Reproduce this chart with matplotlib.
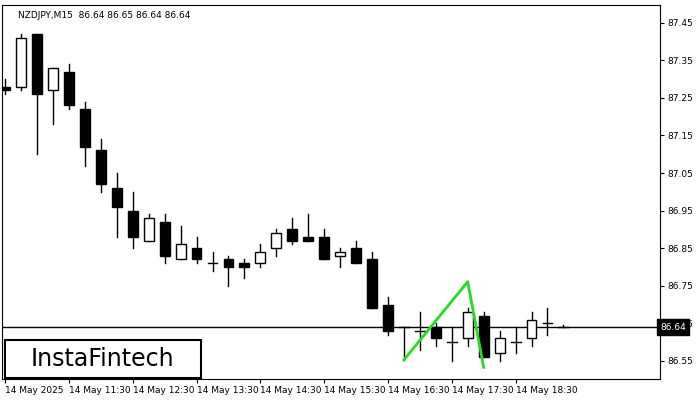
import matplotlib
matplotlib.use("Agg")
import matplotlib.pyplot as plt
from matplotlib.patches import Rectangle

# OHLC of the M15 bars
opens  = [87.28, 87.28, 87.42, 87.27, 87.32, 87.22, 87.11, 87.01, 86.95, 86.87, 86.92, 86.82, 86.85, 86.81,
          86.82, 86.81, 86.81, 86.85, 86.90, 86.88, 86.88, 86.83, 86.85, 86.82, 86.70, 86.64, 86.63, 86.64,
          86.60, 86.61, 86.67, 86.57, 86.60, 86.61, 86.65, 86.64]
highs  = [87.30, 87.42, 87.42, 87.33, 87.34, 87.24, 87.14, 87.05, 87.00, 86.94, 86.94, 86.91, 86.88, 86.84,
          86.83, 86.82, 86.86, 86.90, 86.93, 86.94, 86.90, 86.85, 86.87, 86.84, 86.72, 86.64, 86.68, 86.65,
          86.64, 86.69, 86.68, 86.63, 86.64, 86.68, 86.69, 86.645]
lows   = [87.26, 87.27, 87.10, 87.18, 87.22, 87.07, 87.00, 86.88, 86.85, 86.87, 86.81, 86.82, 86.81, 86.79,
          86.75, 86.77, 86.80, 86.83, 86.86, 86.87, 86.82, 86.80, 86.81, 86.69, 86.62, 86.553, 86.58, 86.59,
          86.55, 86.59, 86.56, 86.55, 86.57, 86.59, 86.62, 86.64]
closes = [87.27, 87.41, 87.26, 87.33, 87.23, 87.12, 87.02, 86.96, 86.88, 86.93, 86.83, 86.86, 86.82, 86.81,
          86.80, 86.80, 86.84, 86.89, 86.87, 86.87, 86.82, 86.84, 86.81, 86.69, 86.63, 86.64, 86.63, 86.61,
          86.60, 86.68, 86.56, 86.61, 86.60, 86.66, 86.65, 86.64]

pattern_idx = [25, 29, 30]
pattern_px = [86.553, 86.761, 86.533]
last_price = 86.64

yticks = [87.45, 87.35, 87.25, 87.15, 87.05, 86.95, 86.85, 86.75, 86.65, 86.55]
xtick_idx = [0, 4, 8, 12, 16, 20, 24, 28, 32]
xtick_labels = ["14 May 2025", "14 May 11:30", "14 May 12:30", "14 May 13:30", "14 May 14:30",
                "14 May 15:30", "14 May 16:30", "14 May 17:30", "14 May 18:30"]

fig = plt.figure(figsize=(7, 4), dpi=100)
ax = fig.add_axes([0.003, 0.0525, 0.94, 0.935])
w = 0.62
for i, (o, h, l, c) in enumerate(zip(opens, highs, lows, closes)):
    ax.plot([i, i], [l, h], color="black", lw=1, zorder=2)
    if abs(c - o) < 0.004:
        ax.plot([i - w / 2, i + w / 2], [o, o], color="black", lw=1, zorder=3)
    else:
        face = "white" if c > o else "black"
        ax.add_patch(Rectangle((i - w / 2, min(o, c)), w, abs(c - o), facecolor=face,
                               edgecolor="black", lw=1, zorder=3))

ax.axhline(last_price, color="black", lw=1, zorder=1)
ax.plot(pattern_idx, pattern_px, color="#22dd22", lw=2, zorder=4)

ax.set_xlim(-0.19, 41.06)
ax.set_ylim(86.502, 87.497)
ax.yaxis.tick_right()
ax.set_yticks(yticks)
ax.set_yticklabels([f"{v:.2f}" for v in yticks], fontsize=6.5)
ax.set_xticks(xtick_idx)
ax.set_xticklabels(xtick_labels, fontsize=6.5, ha="left")
ax.tick_params(length=3, width=0.8, pad=2)
for s in ax.spines.values():
    s.set_linewidth(0.8)

ax.text(1.0, last_price, f"{last_price:.2f}", transform=ax.get_yaxis_transform(), fontsize=6.5,
        color="white", va="center", ha="left", zorder=10, clip_on=False,
        bbox=dict(boxstyle="square,pad=0.35", facecolor="black", edgecolor="black"))
ax.text(0.024, 0.985, "NZDJPY,M15  86.64 86.65 86.64 86.64", transform=ax.transAxes,
        fontsize=6.5, va="top", ha="left")

# logo box
fig.patches.append(Rectangle((0.007, 0.055), 0.28, 0.095, transform=fig.transFigure,
                             facecolor="white", edgecolor="black", lw=1.5, zorder=5))
fig.text(0.147, 0.102, "InstaFintech", fontsize=17, ha="center", va="center", zorder=6)

fig.savefig("out.png", dpi=100)
